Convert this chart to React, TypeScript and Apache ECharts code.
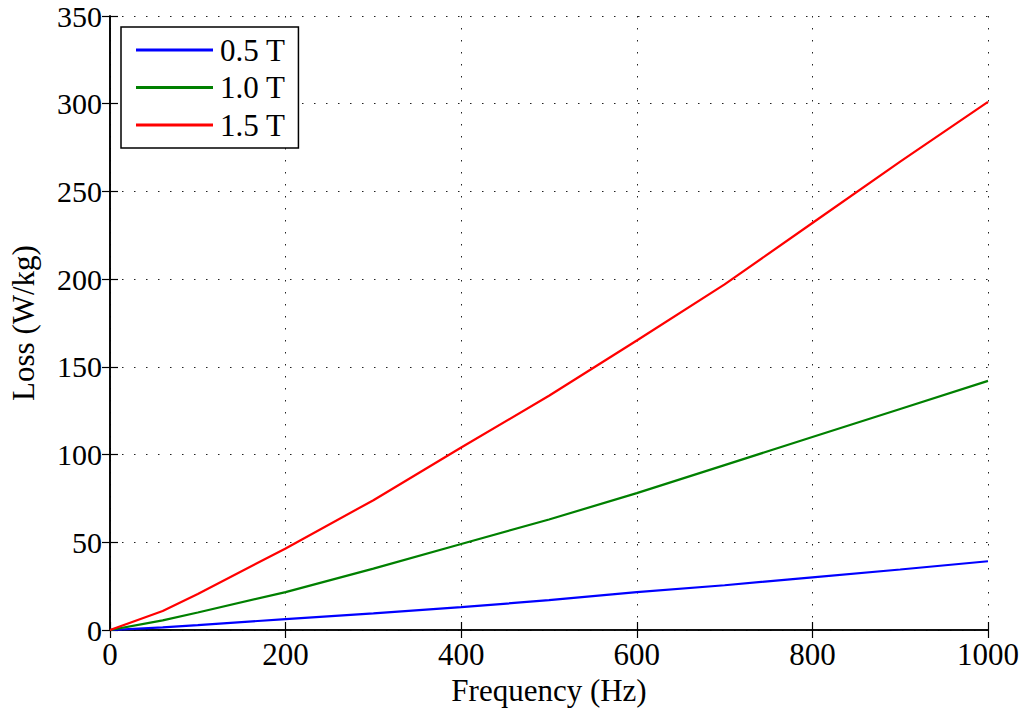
import React, { useEffect, useRef } from "react";
import * as echarts from "echarts";

const freq = [0, 60, 100, 200, 300, 400, 500, 600, 700, 800, 900, 1000];
const loss05 = [0, 1.5, 2.8, 6.2, 9.5, 13, 17, 21.6, 25.5, 30, 34.5, 39.2];
const loss10 = [0, 5.5, 10, 21.6, 35, 49, 63, 78, 94, 110, 126, 142];
const loss15 = [0, 10.8, 20.5, 46.5, 74, 104, 133.5, 165, 197, 232, 267, 301];
const seriesNames = ["0.5 T", "1.0 T", "1.5 T"];
const seriesColors = ["#0000ff", "#008000", "#ff0000"];

const FONT = "'Liberation Serif', 'Times New Roman', serif";
const FS = 31;

export default function App() {
  const ref = useRef<HTMLDivElement>(null);
  useEffect(() => {
    if (!ref.current) return;
    const chart = echarts.init(ref.current, null, { renderer: "svg" });
    const values = [loss05, loss10, loss15];
    const splitLine = {
      show: true,
      lineStyle: { color: "#222", width: 1, type: [1.5, 10.5] as any },
    };
    const axisLine = { show: true, lineStyle: { color: "#000", width: 1.6 } };
    const tick = { show: true, inside: true, length: 8, lineStyle: { color: "#000", width: 1.2 } };
    chart.setOption({
      animation: false,
      backgroundColor: "#fff",
      grid: { left: 108, right: 39, top: 16, bottom: 85, containLabel: false },
      legend: {
        orient: "vertical",
        left: 121,
        top: 27,
        data: seriesNames,
        icon: "rect",
        itemWidth: 77,
        itemHeight: 3,
        itemGap: 6.5,
        padding: [7.5, 13, 7.5, 15],
        borderColor: "#000",
        borderWidth: 1.5,
        backgroundColor: "#fff",
        textStyle: { fontFamily: FONT, fontSize: FS, color: "#000", padding: [0, 0, 0, 2] },
      },
      xAxis: [
        {
          type: "value",
          min: 0,
          max: 1000,
          interval: 200,
          name: "Frequency (Hz)",
          nameLocation: "middle",
          nameGap: 44,
          nameTextStyle: { fontFamily: FONT, fontSize: FS, color: "#000" },
          axisLine,
          axisTick: tick,
          axisLabel: {
            fontFamily: FONT,
            fontSize: FS,
            color: "#000",
            margin: 9,
            formatter: (v: number) => String(v),
          },
          splitLine,
        },
        {
          type: "value",
          position: "top",
          min: 0,
          max: 1000,
          interval: 200,
          axisLine,
          axisTick: tick,
          axisLabel: { show: false },
          splitLine: { show: false },
        },
      ],
      yAxis: [
        {
          type: "value",
          min: 0,
          max: 350,
          interval: 50,
          name: "Loss (W/kg)",
          nameLocation: "middle",
          nameGap: 71,
          nameTextStyle: { fontFamily: FONT, fontSize: FS, color: "#000" },
          axisLine,
          axisTick: tick,
          axisLabel: { fontFamily: FONT, fontSize: 30, lineHeight: 24, color: "#000", margin: 8 },
          splitLine,
        },
        {
          type: "value",
          position: "right",
          min: 0,
          max: 350,
          interval: 50,
          axisLine,
          axisTick: tick,
          axisLabel: { show: false },
          splitLine: { show: false },
        },
      ],
      series: seriesNames.map((name, i) => ({
        name,
        type: "line",
        symbol: "none",
        data: freq.map((f, j) => [f, values[i][j]]),
        lineStyle: { color: seriesColors[i], width: 2.2 },
        itemStyle: { color: seriesColors[i] },
        z: 3,
      })),
    });
    return () => chart.dispose();
  }, []);
  return (
    <div
      ref={ref}
      style={{ position: "fixed", left: 0, top: 0, width: 1027, height: 715, background: "#fff" }}
    />
  );
}
